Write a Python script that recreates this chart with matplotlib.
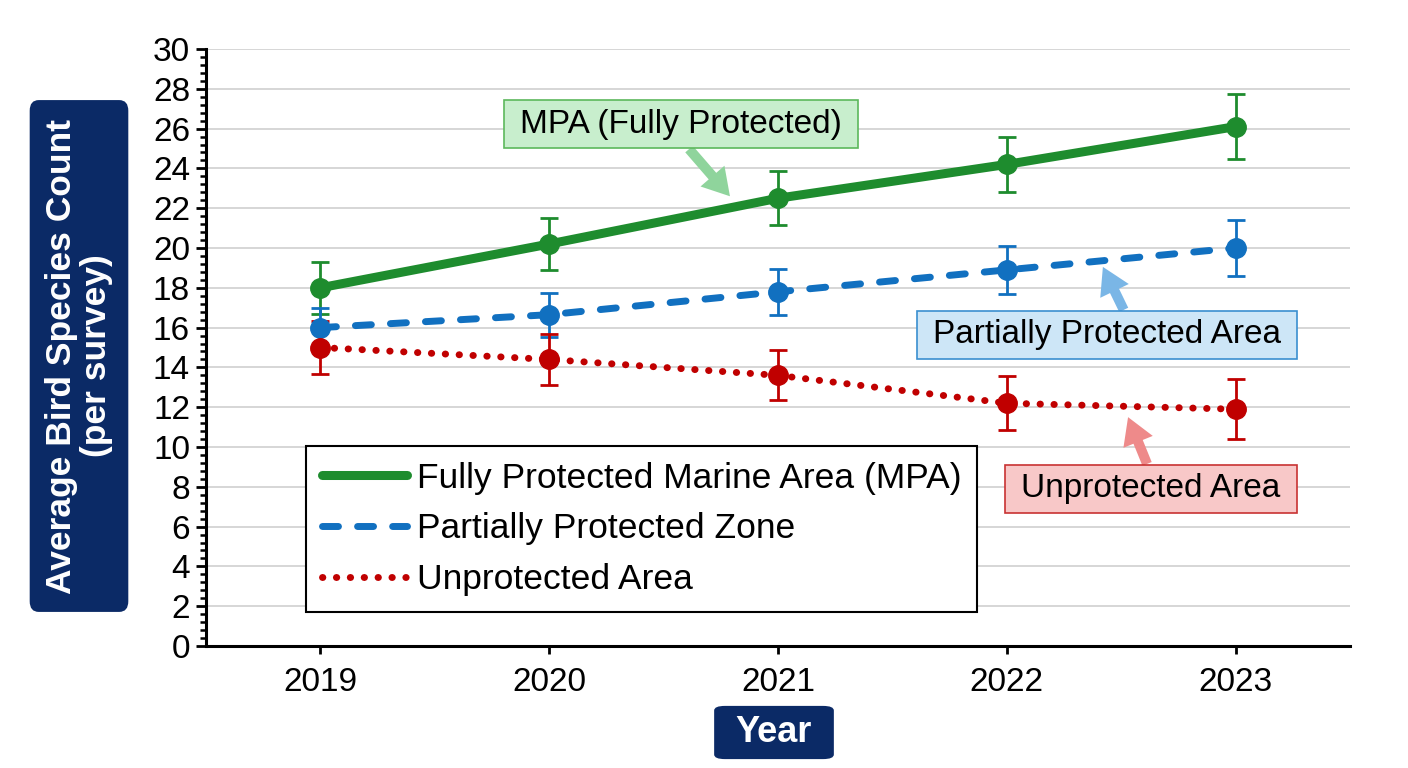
import matplotlib
matplotlib.use("Agg")
import matplotlib.pyplot as plt
from matplotlib.lines import Line2D
from matplotlib.ticker import MultipleLocator

years = [2019, 2020, 2021, 2022, 2023]
mpa = [18.0, 20.2, 22.5, 24.2, 26.1]
mpa_err = [1.3, 1.3, 1.35, 1.4, 1.65]
partial = [16.0, 16.65, 17.8, 18.9, 20.0]
partial_err = [1.0, 1.1, 1.15, 1.2, 1.4]
unprot = [15.0, 14.4, 13.6, 12.2, 11.9]
unprot_err = [1.35, 1.3, 1.25, 1.35, 1.5]

legend_labels = ["Fully Protected Marine Area (MPA)", "Partially Protected Zone", "Unprotected Area"]
ann_labels = ["MPA (Fully Protected)", "Partially Protected Area", "Unprotected Area"]

GREEN = "#1e8c2e"
BLUE = "#1170c0"
RED = "#c00000"
NAVY = "#0b2a66"

plt.rcParams['font.family'] = ['Liberation Sans', 'DejaVu Sans']

fig = plt.figure(figsize=(14.08, 7.68), dpi=100)
ax = fig.add_axes([206/1408, 1-646/768, (1350-206)/1408, (646-49)/768])

styles = [
    dict(color=GREEN, lw=6.5, linestyle='-', solid_capstyle='round'),
    dict(color=BLUE, lw=5, linestyle=(0, (2.3, 2.75)), dash_capstyle='round'),
    dict(color=RED, lw=5, linestyle=(0, (0.05, 1.95)), dash_capstyle='round'),
]

for vals, st in zip([mpa, partial, unprot], styles):
    ax.plot(years, vals, zorder=3, **st)

for vals, errs, st in zip([mpa, partial, unprot], [mpa_err, partial_err, unprot_err], styles):
    ax.errorbar(years, vals, yerr=errs, fmt='o', color=st['color'], ms=14, elinewidth=2,
                capsize=6.5, capthick=2, zorder=4)

ax.set_xlim(2018.5, 2023.5)
ax.set_ylim(0, 30)
ax.set_xticks(years)
ax.set_xticklabels([str(y) for y in years])
ax.yaxis.set_major_locator(MultipleLocator(2))
ax.yaxis.set_minor_locator(MultipleLocator(0.4))
ax.grid(axis='y', which='major', color='#d0d0d0', lw=1.2, zorder=0)
ax.set_axisbelow(True)
for s in ['top', 'right']:
    ax.spines[s].set_visible(False)
for s in ['left', 'bottom']:
    ax.spines[s].set_linewidth(2.2)
ax.tick_params(axis='y', which='major', length=7.5, width=2, labelsize=24, pad=4)
ax.tick_params(axis='y', which='minor', length=4.3, width=1.8)
ax.tick_params(axis='x', which='major', length=6, width=2, labelsize=24, pad=9)

handles = [Line2D([0], [0], **st) for st in styles]
leg = ax.legend(handles, legend_labels, loc='lower left', bbox_to_anchor=(0.0874, 0.057),
                fontsize=25.5, frameon=True, fancybox=False, framealpha=1, edgecolor='black',
                handlelength=2.4, handletextpad=0.28, labelspacing=0.5, borderpad=0.45,
                borderaxespad=0)
leg.get_frame().set_linewidth(1.5)

arrow_style = 'simple,head_length=0.8,head_width=0.95,tail_width=0.3'
# annotations
ax.annotate(ann_labels[0], xy=(2020.79, 22.6), xytext=(2020.575, 26.23),
            ha='center', va='center', fontsize=24, zorder=6,
            bbox=dict(boxstyle='square,pad=0.48', mutation_aspect=0.56, fc='#c8eecd', ec='#5cb85c', lw=1.2),
            arrowprops=dict(arrowstyle=arrow_style,
                            fc='#8fd49c', ec='none', relpos=(0.5, 0.0), shrinkA=0, shrinkB=0))
ax.annotate(ann_labels[1], xy=(2022.42, 19.05), xytext=(2022.44, 15.63),
            ha='center', va='center', fontsize=24, zorder=6,
            bbox=dict(boxstyle='square,pad=0.48', mutation_aspect=0.56, fc='#cde6f7', ec='#3a8fd0', lw=1.2),
            arrowprops=dict(arrowstyle=arrow_style,
                            fc='#7ab6e6', ec='none', relpos=(0.56, 1.0), shrinkA=0, shrinkB=0))
ax.annotate(ann_labels[2], xy=(2022.53, 11.5), xytext=(2022.63, 7.89),
            ha='center', va='center', fontsize=24, zorder=6,
            bbox=dict(boxstyle='square,pad=0.48', mutation_aspect=0.56, fc='#f8c8c8', ec='#c83232', lw=1.2),
            arrowprops=dict(arrowstyle=arrow_style,
                            fc='#ee8a8a', ec='none', relpos=(0.5, 1.0), shrinkA=0, shrinkB=0))

# axis labels in navy boxes
fig.text(79/1408, 1-356/768, "Average Bird Species Count\n(per survey)", rotation=90,
         ha='center', va='center', fontsize=25.5, fontweight='bold', color='white',
         linespacing=1.05, rotation_mode='anchor',
         bbox=dict(boxstyle='round,pad=0.52,rounding_size=0.3', mutation_aspect=0.85,
                   fc=NAVY, ec='none'))
fig.text(774/1408, 1-732.5/768, "Year", ha='center', va='center', fontsize=26,
         fontweight='bold', color='white',
         bbox=dict(boxstyle='round,pad=0.6,rounding_size=0.3', mutation_aspect=0.42,
                   fc=NAVY, ec='none'))

fig.savefig("out.png", dpi=100)
